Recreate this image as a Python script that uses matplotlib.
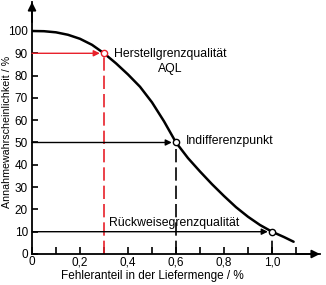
import matplotlib
matplotlib.use("Agg")
import matplotlib.pyplot as plt

plt.rcParams['font.family'] = ['Liberation Sans', 'DejaVu Sans']

# OC curve
fehler = [0, 0.05, 0.1, 0.15, 0.2, 0.25, 0.3, 0.35, 0.4, 0.45, 0.5, 0.55, 0.6,
          0.65, 0.7, 0.75, 0.8, 0.85, 0.9, 0.95, 1.0, 1.05, 1.09]
annahme = [100, 99.9, 99.4, 98.3, 96.5, 93.8, 90, 85.5, 80.5, 75, 68, 59.5, 50,
           43, 37, 31.3, 26, 21, 16.7, 13, 10, 7.6, 5.5]

# marked points: AQL, Indifferenzpunkt, Rueckweisegrenzqualitaet
punkt_x = [0.3, 0.6, 1.0]
punkt_y = [90, 50, 10]
punkt_farbe = ['#e8202a', 'black', 'black']

xticks = [0, 0.2, 0.4, 0.6, 0.8, 1.0]
xticklabels = ['0', '0,2', '0,4', '0,6', '0,8', '1,0']
xminor = [0.1, 0.3, 0.5, 0.7, 0.9, 1.1]
yticks = list(range(0, 101, 10))

fig = plt.figure(figsize=(3.26, 2.85), dpi=100)
ax = fig.add_axes([32 / 326, 31 / 285, 288 / 326, 252 / 285])
ax.set_xlim(0, 1.2)
ax.set_ylim(0, 113)

for s in ['top', 'right']:
    ax.spines[s].set_visible(False)
for s in ['left', 'bottom']:
    ax.spines[s].set_linewidth(1.3)

# axis arrows
ax.annotate('', xy=(1.2, 0), xytext=(1.1, 0), xycoords='data',
            arrowprops=dict(arrowstyle='-|>', color='black', lw=1.3,
                            mutation_scale=12, shrinkA=0, shrinkB=0),
            annotation_clip=False)
ax.annotate('', xy=(0, 113), xytext=(0, 104), xycoords='data',
            arrowprops=dict(arrowstyle='-|>', color='black', lw=1.3,
                            mutation_scale=12, shrinkA=0, shrinkB=0),
            annotation_clip=False)

ax.set_xticks(xticks)
ax.set_xticklabels(xticklabels)
ax.set_xticks(xminor, minor=True)
ax.set_yticks(yticks)
ax.tick_params(axis='x', which='both', direction='in', length=5, width=1.2,
               labelsize=8.5, pad=1.5)
ax.tick_params(axis='y', direction='in', length=4, width=1.2, labelsize=8.5, pad=3)

# curve
ax.plot(fehler, annahme, color='black', lw=1.8, solid_capstyle='round', zorder=3)

# guide lines
for px, py, c in zip(punkt_x, punkt_y, punkt_farbe):
    ax.annotate('', xy=(px, py), xytext=(0, py),
                arrowprops=dict(arrowstyle='-|>', color=c, lw=1.0,
                                mutation_scale=9, shrinkA=0, shrinkB=3))
    ax.plot([px, px], [0, py], color=c, lw=1.2, ls=(0, (8, 3)), zorder=2)
    ax.plot([px], [py], marker='o', ms=4.5, mfc='white', mec=c, mew=1.0,
            ls='none', zorder=4)

ax.text(0.342, 89.8, 'Herstellgrenzqualität', fontsize=8.8, va='center', ha='left')
ax.text(0.575, 83, 'AQL', fontsize=8.8, va='center', ha='center')
ax.text(0.642, 50.7, 'Indifferenzpunkt', fontsize=8.8, va='center', ha='left')
ax.text(0.321, 13.8, 'Rückweisegrenzqualität', fontsize=8.8, va='center', ha='left')

fig.text(152.5 / 326, 1 - 276.5 / 285, 'Fehleranteil in der Liefermenge / %',
         fontsize=8.5, ha='center', va='center')
fig.text(7.5 / 326, 1 - 132 / 285, 'Annahmewahrscheinlichkeit / %',
         fontsize=7.7, ha='center', va='center', rotation=90)

fig.savefig('out.png', dpi=100)
